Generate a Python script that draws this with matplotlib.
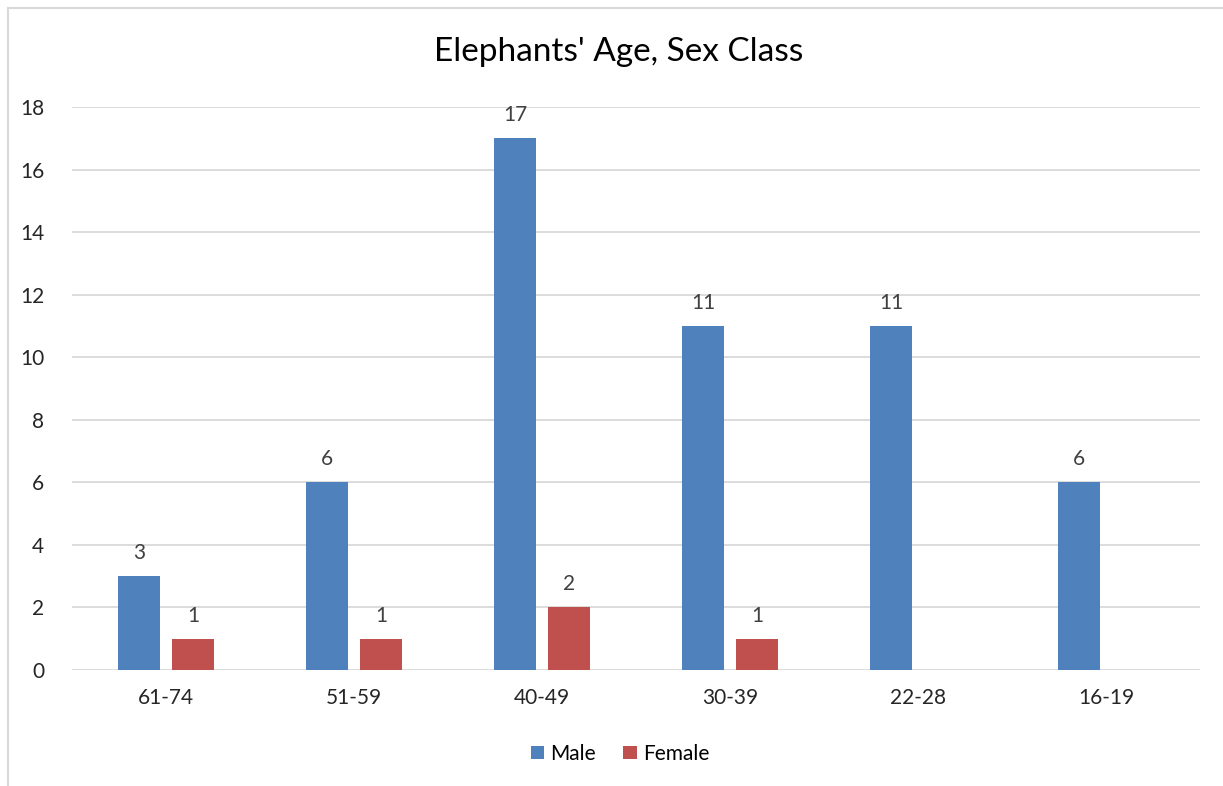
import numpy as np
from matplotlib import pyplot as plt
from matplotlib.lines import Line2D

# data
categories = ['61-74', '51-59', '40-49', '30-39', '22-28', '16-19']
male = [3, 6, 17, 11, 11, 6]
female = [1, 1, 2, 1, 0, 0]
y_ticks = list(range(0, 20, 2))

plt.rcParams['font.family'] = ['Lato', 'DejaVu Sans']

fig = plt.figure(figsize=(12.23, 7.86), dpi=100)
ax = fig.add_axes([0.0589, 0.1476, 0.9223, 0.7163])

# chart-area border: only left and top edges show in the crop
bx, by = 8 / 1223, 1 - 8 / 786
fig.lines.append(Line2D([bx, bx], [0, by], transform=fig.transFigure,
                        color='#D9D9D9', linewidth=1.5))
fig.lines.append(Line2D([bx, 1], [by, by], transform=fig.transFigure,
                        color='#D9D9D9', linewidth=1.5))

x = np.arange(len(categories))
w = 0.223
off = 0.143
bm = ax.bar(x - off, male, w, color='#4F81BD', label='Male', zorder=3)
bf = ax.bar(x + off, female, w, color='#C0504D', label='Female', zorder=3)

for bars, vals in ((bm, male), (bf, female)):
    for b, v in zip(bars, vals):
        if v == 0:
            continue
        ax.text(b.get_x() + b.get_width() / 2, v + 0.42, str(v),
                ha='center', va='bottom', fontsize=15, color='#404040')

ax.set_xlim(-0.5, len(categories) - 0.5)
ax.set_ylim(0, 18)
ax.set_yticks(y_ticks)
ax.set_xticks(x)
ax.set_xticklabels(categories)
ax.tick_params(axis='both', length=0, labelsize=15, labelcolor='#262626')
ax.tick_params(axis='y', pad=20)
ax.tick_params(axis='x', pad=13)
ax.grid(axis='y', color='#D9D9D9', linewidth=1.3, zorder=0)
for s in ax.spines.values():
    s.set_visible(False)

fig.text(0.506, 0.934, "Elephants' Age, Sex Class", ha='center', va='center',
         fontsize=24, color='#000000')

fig.legend(loc='center', bbox_to_anchor=(0.507, 0.041), ncol=2, frameon=False,
           fontsize=15, handlelength=0.65, handleheight=0.65, handletextpad=0.3,
           columnspacing=1.3)

fig.savefig('out.png', dpi=100)
